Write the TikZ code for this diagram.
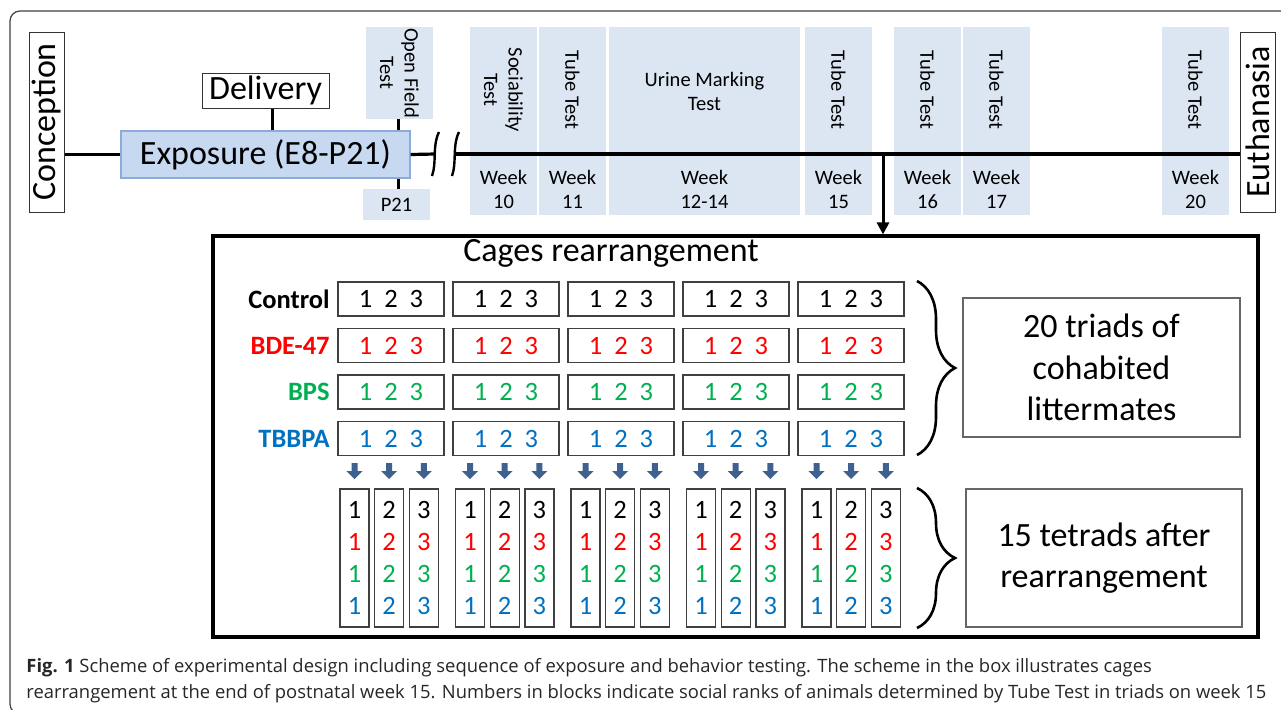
\documentclass[tikz,border=0pt]{standalone}
\usepackage{fontspec}
\setmainfont{Carlito}
\newfontfamily\capfont{Open Sans}
\usetikzlibrary{
  arrows.meta,
  positioning,
  fit,
  calc,
  decorations.pathreplacing
}
\definecolor{figExpFill}{HTML}{C6D9F1}
\definecolor{figExpEdge}{HTML}{8EAADB}
\definecolor{figTest}{HTML}{DCE6F2}
\definecolor{figArrow}{HTML}{3F6190}
\definecolor{figRed}{HTML}{FF0000}
\definecolor{figGreen}{HTML}{00B050}
\definecolor{figBlue}{HTML}{0070C0}
\newcommand{\fBig}{\fontsize{17}{20.75}\selectfont}
\newcommand{\fMid}{\fontsize{13.25}{16}\selectfont}
\newcommand{\fSmall}{\fontsize{10.25}{12.25}\selectfont}
\newcommand{\fCap}{\capfont\fontsize{9.2}{13}\selectfont}
\tikzset{
  outerframe/.style={draw=black!75, line width=0.6pt, rounded corners=5pt},
  evbox/.style={draw=black!80, line width=0.5pt, fill=white, inner sep=0pt, font=\fBig},
  expbox/.style={draw=figExpEdge, line width=0.6pt, fill=figExpFill, inner sep=0pt,
    font=\fBig, minimum width=144.5pt, minimum height=23.5pt},
  smallbox/.style={fill=figTest, inner sep=0pt, font=\fSmall, align=center},
  testbg/.style={fill=figTest, inner sep=0pt},
  testlbl/.style={font=\fSmall, align=center, inner sep=0pt},
  timeline/.style={line width=1.6pt},
  conn/.style={line width=1.5pt},
  brk/.style={line width=1.2pt},
  drop/.style={line width=1.5pt, -{Triangle[length=6pt, width=6pt]}},
  cagebox/.style={draw, line width=1.6pt, inner sep=0pt, minimum width=522.5pt, minimum height=200.5pt},
  grouplbl/.style={font=\fMid\bfseries, anchor=east, inner sep=0pt},
  triad/.style={draw=black!75, line width=0.7pt, minimum width=53pt, minimum height=17pt,
    inner sep=0pt, font=\fMid},
  tetrad/.style={draw=black!75, line width=0.7pt, minimum width=14.5pt, minimum height=69pt,
    inner sep=0pt, font=\fMid, align=center},
  sidebox/.style={draw=black!60, line width=0.6pt, inner sep=0pt, font=\fBig, align=center},
  brc/.style={decorate, decoration={brace, amplitude=19pt}, line width=1.3pt},
  dnarrow/.pic={\fill[figArrow] (-3,-8) -- (3,-8) -- (3,0) -- (8,0) -- (0,8) -- (-8,0) -- (-3,0) -- cycle;}
}

\begin{document}
\begin{tikzpicture}[x=0.5pt, y=-0.5pt]
  \useasboundingbox (0,0) rectangle (1281,709);
  \clip (0,0) rectangle (1281,709);
  \draw[outerframe] (10,11) rectangle (1300,714);

  % timeline
  \node[evbox, rotate=90, minimum width=90pt, minimum height=17.5pt] (conc) at (46.5,122) {Conception};
  \node[evbox, minimum width=63.5pt, minimum height=17.5pt] (del) at (265.5,90.5) {Delivery};
  \node[expbox] (exp) at (265.5,154.5) {Exposure (E8-P21)};
  \node[smallbox, rotate=-90, minimum width=46pt, minimum height=33.5pt] (oft) at (399.5,73) {Open Field\\Test};
  \node[smallbox, minimum width=33.5pt, minimum height=15.5pt] (p21) at (396.5,204.5) {P21};
  \node[evbox, rotate=90, minimum width=90pt, minimum height=17.5pt] (eut) at (1257.5,122) {Euthanasia};

  \coordinate (delx) at (272,0);
  \coordinate (ofx) at (398,0);
  \coordinate (brkA) at (435,154);
  \coordinate (brkB) at (455,154);
  \coordinate (drop) at (883,154);

  % test blocks
  \foreach \l/\r/\t/\w in {470/537/{Sociability\\Test}/10, 539/606/Tube Test/11,
      805/872/Tube Test/15, 894/961/Tube Test/16, 963/1030/Tube Test/17, 1162/1229/Tube Test/20} {
    \node[testbg, fit={(\l,27) (\r,215)}] (tb\w) {};
    \node[testlbl, rotate=-90] (tt\w) at ({(\l+\r)/2},90) {\t};
    \node[testlbl] (wk\w) at ({(\l+\r)/2},189.5) {Week\\\w};
  }
  \node[testbg, fit={(609,27) (800,215)}] (tb1214) {};
  \node[testlbl] (tt1214) at (704.5,91.5) {Urine Marking\\Test};
  \node[testlbl] (wk1214) at (704.5,189.5) {Week\\12-14};

  \draw[timeline] (conc.south |- exp.west) -- (exp.west);
  \draw[timeline] (exp.east) -- (brkA);
  \draw[timeline] (brkB) -- (eut.north |- brkB);
  \draw[brk] ([shift={(4,-22)}]brkA) .. controls ([shift={(-3,-8)}]brkA) and ([shift={(2,8)}]brkA) .. ([shift={(-3,22)}]brkA);
  \draw[brk] ([shift={(4,-22)}]brkB) .. controls ([shift={(-3,-8)}]brkB) and ([shift={(2,8)}]brkB) .. ([shift={(-3,22)}]brkB);
  \draw[conn] (del.south -| delx) -- (exp.north -| delx);
  \draw[conn] (oft.east -| ofx) -- (exp.north -| ofx);
  \draw[conn] (exp.south -| ofx) -- (p21.north -| ofx);

  % cages
  \node[cagebox] (cage) at (735.5,436.5) {};
  \draw[drop] (drop) -- (drop |- cage.north);
  \node[font=\fBig] (cagettl) at (611,253) {Cages rearrangement};

  \foreach \r/\g/\c in {0/Control/black, 1/BDE-47/figRed, 2/BPS/figGreen, 3/TBBPA/figBlue} {
    \node[grouplbl, text=\c] (lbl\r) at (330,{299+46.5*\r}) {\g};
    \foreach \k in {0,...,4}
      \node[triad, text=\c] (tr\r\k) at ({391+115*\k},{299+46.5*\r}) {1\hspace{6pt}2\hspace{6pt}3};
  }

  \foreach \k in {0,...,4}
    \foreach \j in {1,2,3} {
      \pic at ({354.5+115.5*\k+34.7*(\j-1)},471) {dnarrow};
      \node[tetrad] (te\k\j) at ({354.5+115.5*\k+34.7*(\j-1)},558)
        {\j\\\textcolor{figRed}{\j}\\\textcolor{figGreen}{\j}\\\textcolor{figBlue}{\j}};
    }

  \draw[brc] (917,281) -- (917,455);
  \draw[brc] (917,488) -- (917,628);
  \node[sidebox, minimum width=138.5pt, minimum height=69.5pt] (triads) at (1101.5,367.5)
    {20 triads of\\cohabited\\littermates};
  \node[sidebox, minimum width=138pt, minimum height=69pt] (tetrads) at (1104,558)
    {15 tetrads after\\rearrangement};

  % caption
  \node[anchor=base west, align=left, font=\fCap, inner sep=0pt, text=black!85] (cap) at (26,698)
    {\textbf{Fig. 1} Scheme of experimental design including sequence of exposure and behavior testing. The scheme in the box illustrates cages\\
     rearrangement at the end of postnatal week 15. Numbers in blocks indicate social ranks of animals determined by Tube Test in triads on week 15};
\end{tikzpicture}
\end{document}
